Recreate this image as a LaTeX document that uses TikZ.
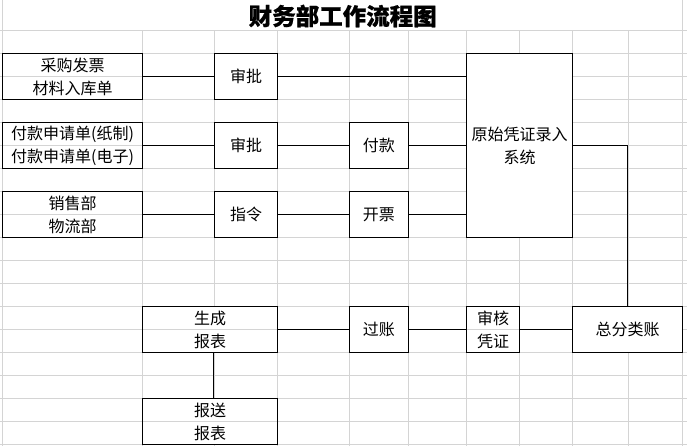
\documentclass[tikz,border=0pt]{standalone}
\usepackage{fontspec}
\setmainfont{Noto Sans CJK SC}
\newfontfamily\titlefont[BoldFeatures={FakeBold=0.6}]{Noto Sans CJK SC}
\usetikzlibrary{calc}
\definecolor{gridgray}{RGB}{212,212,212}
\tikzset{
  gridline/.style={draw=gridgray, line width=0.9pt},
  box/.style={draw=black, fill=white, line width=1.2pt, inner sep=0pt, align=center,
    font=\fontsize{16}{23}\selectfont, minimum height=46pt},
  split/.style={path picture={\draw[gridline] (path picture bounding box.west) -- (path picture bounding box.east);}},
  link/.style={draw=black, line width=1.2pt},
  titletext/.style={font=\titlefont\fontsize{23.5}{26}\selectfont\bfseries, inner sep=0pt}
}
\begin{document}
\begin{tikzpicture}[x=1pt, y=-1pt]
\useasboundingbox (0,0) rectangle (687,446);
% spreadsheet grid
\foreach \k in {0,...,18} {
  \draw[gridline] (0,{30.5+23*\k}) -- (687,{30.5+23*\k});
}
\foreach \c in {142.5,214.3,277.7,349.3,408.3,466.7,519.3,572.5,628.3} {
  \draw[gridline] (\c,30.5) -- (\c,446);
}
\foreach \c in {2.7,682.7} {
  \draw[gridline] (\c,0) -- (\c,446);
}
% title
\node[titletext] (title) at (342.7,16) {财务部工作流程图};
% boxes
\node[box, split, minimum width=139.8pt] (src1) at (72.6,76.5) {采购发票\\材料入库单};
\node[box, minimum width=63.4pt] (ap1) at (246,76.5) {审批};
\node[box, split, minimum width=139.8pt] (src2) at (72.6,145.5) {付款申请单(纸制)\\付款申请单(电子)};
\node[box, minimum width=63.4pt] (ap2) at (246,145.5) {审批};
\node[box, minimum width=59pt] (pay) at (378.8,145.5) {付款};
\node[box, split, minimum width=139.8pt] (src3) at (72.6,214.5) {销售部\\物流部};
\node[box, minimum width=63.4pt] (cmd) at (246,214.5) {指令};
\node[box, minimum width=59pt] (inv) at (378.8,214.5) {开票};
\node[box, minimum width=105.8pt, minimum height=184pt] (sys) at (519.6,145.5) {原始凭证录入\\系统};
\node[box, minimum width=110.2pt] (ledger) at (627.6,329.5) {总分类账};
\node[box, split, minimum width=52.6pt] (audit) at (493,329.5) {审核\\凭证};
\node[box, minimum width=59pt] (post) at (378.8,329.5) {过账};
\node[box, split, minimum width=135.2pt] (gen) at (210.1,329.5) {生成\\报表};
\node[box, split, minimum width=135.2pt] (send) at (210.1,421.5) {报送\\报表};
% connectors
\draw[link] (src1.east) -- (ap1.west);
\draw[link] (ap1.east) -- (ap1.east -| sys.west);
\draw[link] (src2.east) -- (ap2.west);
\draw[link] (ap2.east) -- (pay.west);
\draw[link] (pay.east) -- (pay.east -| sys.west);
\draw[link] (src3.east) -- (cmd.west);
\draw[link] (cmd.east) -- (inv.west);
\draw[link] (inv.east) -- (inv.east -| sys.west);
\draw[link] (sys.east) -| (ledger.north);
\draw[link] (ledger.west) -- (audit.east);
\draw[link] (audit.west) -- (post.east);
\draw[link] (post.west) -- (gen.east);
\draw[link] (gen.south -| ap1.west) -- (send.north -| ap1.west);
\end{tikzpicture}
\end{document}
